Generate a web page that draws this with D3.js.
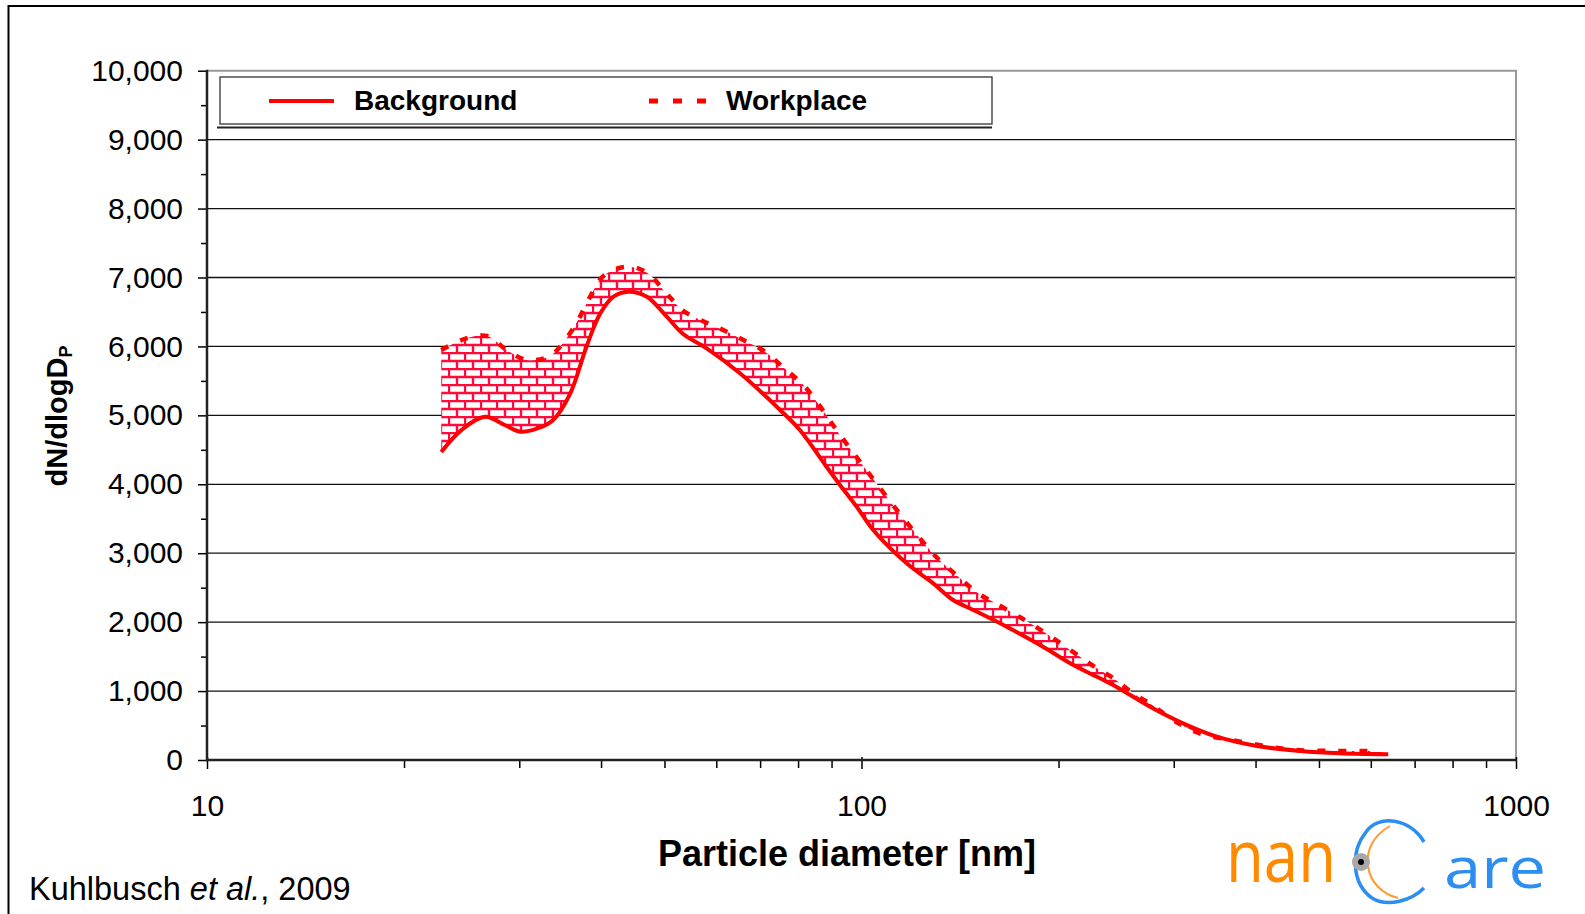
<html>
<script src='https://d3js.org/d3.v7.min.js'></script>
<body style="margin:0; background:#fff">
<style>
    body { font-family: "Liberation Sans", Arial, sans-serif; }
    text { font-family: "Liberation Sans", Arial, sans-serif; }
</style>
<svg width=1585 height=914></svg>
<script>

// particle diameters (nm) and dN/dlogDp values
var bgDiam = [22.8, 24.5, 26.6, 28.5, 30.1, 32, 33.8, 35.9, 38.0, 39.9, 41.8, 44.0, 47.0, 50.4, 53.4, 58.0, 65.2, 75.1, 80.5, 88.4, 92.7, 98.3, 104.2, 117.2, 128.7, 138, 148.2, 166.6, 187.4, 210.7, 231.4, 245, 276, 310, 349, 402, 468, 538, 638];
var bgVal  = [4470, 4790, 4980, 4860, 4763, 4810, 4933, 5320, 5996, 6480, 6722, 6794, 6722, 6431, 6180, 5972, 5610, 5078, 4787, 4255, 3990, 3675, 3337, 2853, 2563, 2321, 2176, 1934, 1668, 1378, 1185, 1064, 773, 532, 338, 203, 131, 97, 83];

var wpDiam = [22.8, 24.9, 26.8, 28.7, 30.8, 33.4, 35.2, 36.9, 38.5, 40.5, 44.0, 47.0, 50.1, 53.4, 58.0, 61.8, 66.8, 71.2, 75.9, 81.5, 85.9, 90.6, 97.7, 103.7, 113.2, 122.8, 130.2, 139.6, 150.7, 162, 174.7, 185.2, 198.7, 212, 228.8, 242.6, 260, 279, 299, 330, 367, 420, 462, 529, 615];
var wpVal  = [5948, 6117, 6151, 5948, 5803, 5861, 6083, 6383, 6722, 7036, 7157, 7070, 6794, 6518, 6344, 6228, 6068, 5924, 5697, 5440, 5165, 4850, 4425, 4101, 3627, 3216, 2941, 2684, 2418, 2249, 2070, 1925, 1731, 1548, 1330, 1185, 967, 788, 580, 380, 290, 193, 145, 131, 131];

var yTicks = [0, 1000, 2000, 3000, 4000, 5000, 6000, 7000, 8000, 9000, 10000];
var xTicks = [10, 100, 1000];
var seriesNames = ["Background", "Workplace"];

var plotLeft = 207, plotRight = 1516, plotTop = 70.7, plotBottom = 760;

var x = d3.scaleLog().domain([10, 1000]).range([plotLeft, plotRight]);
var y = d3.scaleLinear().domain([0, 10000]).range([plotBottom, plotTop]);

var svg = d3.select("svg");

var bg = bgDiam.map(function(d, i) { return {d: d, v: bgVal[i]}; });
var wp = wpDiam.map(function(d, i) { return {d: d, v: wpVal[i]}; });

// outer frame
svg.append("path").attr("d", "M8.5,1000 L8.5,6 L1600,6")
    .style("fill", "none").style("stroke", "#000").style("stroke-width", 2);

// brick pattern for the gap between the curves
var defs = svg.append("defs");
var pat = defs.append("pattern").attr("id", "brick")
    .attr("patternUnits", "userSpaceOnUse")
    .attr("width", 16).attr("height", 16);
pat.append("rect").attr("width", 16).attr("height", 16).style("fill", "#fff");
pat.append("path")
    .attr("d", "M0,1 H16 M0,9 H16 M1,1 V9 M9,9 V17")
    .style("stroke", "#ff0a3c").style("stroke-width", 2.4).style("fill", "none");

// gridlines
svg.append("g").selectAll("line")
    .data(yTicks.filter(function(t) { return t > 0 && t < 10000; }))
    .enter().append("line")
    .attr("x1", plotLeft).attr("x2", plotRight)
    .attr("y1", function(d) { return y(d); }).attr("y2", function(d) { return y(d); })
    .style("stroke", "#111").style("stroke-width", 1.3);

// plot frame (top + right in grey)
svg.append("path")
    .attr("d", "M" + plotLeft + "," + plotTop + " H" + plotRight + " V" + plotBottom)
    .style("fill", "none").style("stroke", "#999").style("stroke-width", 2);

var line = d3.line()
    .x(function(p) { return x(p.d); })
    .y(function(p) { return y(p.v); })
    .curve(d3.curveCatmullRom.alpha(0.5));

// filled band: workplace forward, background back
var upper = line(wp);
var lower = line(bg.slice().reverse());
svg.append("path")
    .attr("d", upper + "L" + lower.slice(1) + "Z")
    .style("fill", "url(#brick)").style("stroke", "none");

svg.append("path")
    .attr("d", line(bg))
    .style("fill", "none").style("stroke", "#ff0000").style("stroke-width", 4);

svg.append("path")
    .attr("d", line(wp))
    .style("fill", "none").style("stroke", "#ff0000").style("stroke-width", 4.5)
    .style("stroke-dasharray", "8,13");

// y axis
var yAxis = svg.append("g").attr("transform", "translate(" + plotLeft + ",0)")
    .call(d3.axisLeft(y).tickValues(yTicks).tickSize(9).tickPadding(15)
        .tickFormat(d3.format(",")));
yAxis.select(".domain").remove();
yAxis.selectAll(".tick line").style("stroke", "#000").style("stroke-width", 1.5);
yAxis.selectAll(".tick text").style("font-size", "30px").style("fill", "#000")
    .style("font-family", "'Liberation Sans', Arial, sans-serif");

var yMinor = svg.append("g").attr("transform", "translate(" + plotLeft + ",0)")
    .call(d3.axisLeft(y).tickValues(d3.range(500, 10000, 1000)).tickSize(6).tickFormat(""));
yMinor.select(".domain").remove();
yMinor.selectAll(".tick line").style("stroke", "#000").style("stroke-width", 1.5);

// x axis
var xMinorVals = [20, 30, 40, 50, 60, 70, 80, 90, 200, 300, 400, 500, 600, 700, 800, 900];
var xMinor = svg.append("g").attr("transform", "translate(0," + plotBottom + ")")
    .call(d3.axisBottom(x).tickValues(xMinorVals).tickSize(8).tickFormat(""));
xMinor.select(".domain").remove();
xMinor.selectAll(".tick line").style("stroke", "#000").style("stroke-width", 1.5);

var xAxis = svg.append("g").attr("transform", "translate(0," + plotBottom + ")")
    .call(d3.axisBottom(x).tickValues(xTicks).tickSize(9).tickPadding(26)
        .tickFormat(d3.format("d")));
xAxis.select(".domain").remove();
xAxis.selectAll(".tick line").attr("y1", -3).style("stroke", "#000").style("stroke-width", 1.5);
xAxis.selectAll(".tick text").style("font-size", "30px").style("fill", "#000")
    .style("font-family", "'Liberation Sans', Arial, sans-serif");

// axis lines
svg.append("path")
    .attr("d", "M" + plotLeft + "," + (plotTop - 1) + " V" + plotBottom + " H" + (plotRight + 1))
    .style("fill", "none").style("stroke", "#222").style("stroke-width", 2.5);

// axis titles
svg.append("text")
    .attr("x", 847).attr("y", 866)
    .attr("text-anchor", "middle")
    .style("font-size", "36px").style("font-weight", "bold")
    .text("Particle diameter [nm]");

var yt = svg.append("text")
    .attr("transform", "translate(67,416) rotate(-90)")
    .attr("text-anchor", "middle")
    .style("font-size", "29px").style("font-weight", "bold");
yt.append("tspan").text("dN/dlogD");
yt.append("tspan").attr("dy", 5).style("font-size", "18px").text("P");

// legend
svg.append("rect").attr("x", 220).attr("y", 77).attr("width", 772).attr("height", 47)
    .style("fill", "#fff").style("stroke", "#333").style("stroke-width", 1.3);
svg.append("line").attr("x1", 217).attr("x2", 992).attr("y1", 127.5).attr("y2", 127.5)
    .style("stroke", "#222").style("stroke-width", 2);

svg.append("line").attr("x1", 269).attr("x2", 334).attr("y1", 101).attr("y2", 101)
    .style("stroke", "#ff0000").style("stroke-width", 4);
svg.append("line").attr("x1", 649).attr("x2", 710).attr("y1", 101).attr("y2", 101)
    .style("stroke", "#ff0000").style("stroke-width", 5).style("stroke-dasharray", "9,15");

svg.append("text").attr("x", 354).attr("y", 110).text(seriesNames[0])
    .style("font-size", "28px").style("font-weight", "bold");
svg.append("text").attr("x", 726).attr("y", 110).text(seriesNames[1])
    .style("font-size", "28px").style("font-weight", "bold");

// source note
var src = svg.append("text").attr("x", 29).attr("y", 900).style("font-size", "32.5px");
src.append("tspan").text("Kuhlbusch ");
src.append("tspan").style("font-style", "italic").text("et al.");
src.append("tspan").text(", 2009");

// nanoCare logo
var logo = svg.append("g");
logo.append("text").attr("x", 1226).attr("y", 882)
    .style("font-family", "'Open Sans', 'DejaVu Sans', sans-serif")
    .style("font-size", "74px").style("fill", "#ff8a00")
    .attr("textLength", 110).attr("lengthAdjust", "spacingAndGlyphs")
    .text("nan");
logo.append("path")
    .attr("d", "M1424,842 C1410,818 1378,814 1366,832 C1350,852 1352,884 1372,898 C1388,908 1412,900 1424,888")
    .style("fill", "none").style("stroke", "#2b8ef0").style("stroke-width", 3.5);
logo.append("path")
    .attr("d", "M1390,826 C1372,836 1366,852 1368,866 C1370,882 1382,894 1398,898")
    .style("fill", "none").style("stroke", "#ff9a30").style("stroke-width", 2);
logo.append("circle").attr("cx", 1361).attr("cy", 862).attr("r", 9).style("fill", "#a8a8a8");
logo.append("circle").attr("cx", 1361).attr("cy", 862).attr("r", 3).style("fill", "#000");
logo.append("text").attr("x", 1444).attr("y", 888)
    .style("font-family", "'Open Sans', 'DejaVu Sans', sans-serif")
    .style("font-size", "56px").style("fill", "#2b8ef0")
    .attr("textLength", 102).attr("lengthAdjust", "spacingAndGlyphs")
    .text("are");

</script>
</body>
</html>
